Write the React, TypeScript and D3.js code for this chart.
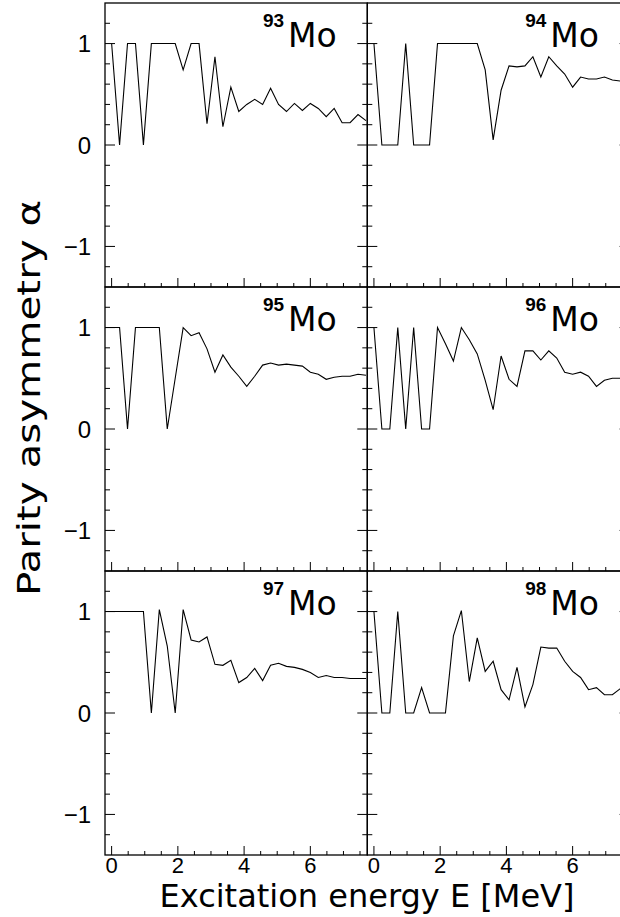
import React from "react";
import * as d3 from "d3";

// Excitation energy grid (MeV)
const energies = [
  -0.24, 0, 0.24, 0.48, 0.72, 0.96, 1.2, 1.44, 1.68, 1.92, 2.16, 2.4, 2.64, 2.88,
  3.12, 3.36, 3.6, 3.84, 4.08, 4.32, 4.56, 4.8, 5.04, 5.28, 5.52, 5.76, 6.0, 6.24,
  6.48, 6.72, 6.96, 7.2, 7.44, 7.68,
];

const nuclei = ["93", "94", "95", "96", "97", "98"];

const mo93 = [null, 1, 0, 1, 1, 0, 1, 1, 1, 1, 0.74, 1, 1, 0.21, 0.87, 0.18, 0.57, 0.33, 0.4, 0.45, 0.4, 0.56, 0.4, 0.33, 0.41, 0.34, 0.41, 0.36, 0.28, 0.36, 0.22, 0.22, 0.3, 0.24];
const mo94 = [null, 1, 0, 0, 0, 1, 0, 0, 0, 1, 1, 1, 1, 1, 1, 0.74, 0.05, 0.54, 0.78, 0.77, 0.78, 0.87, 0.67, 0.87, 0.78, 0.7, 0.57, 0.67, 0.65, 0.65, 0.67, 0.64, 0.63, 0.63];
const mo95 = [1, 1, 1, 0, 1, 1, 1, 1, 0, 0.5, 1, 0.92, 0.95, 0.79, 0.56, 0.73, 0.61, 0.52, 0.42, 0.52, 0.63, 0.65, 0.63, 0.64, 0.63, 0.62, 0.56, 0.54, 0.49, 0.51, 0.52, 0.52, 0.54, 0.53];
const mo96 = [null, 1, 0, 0, 1, 0, 1, 0, 0, 1, 0.84, 0.67, 1, 0.88, 0.74, 0.48, 0.19, 0.72, 0.49, 0.42, 0.77, 0.77, 0.68, 0.77, 0.7, 0.56, 0.54, 0.56, 0.52, 0.42, 0.48, 0.5, 0.5, 0.5];
const mo97 = [1, 1, 1, 1, 1, 1, 0, 1.02, 0.66, 0, 1.02, 0.72, 0.7, 0.75, 0.48, 0.47, 0.52, 0.3, 0.35, 0.44, 0.32, 0.47, 0.49, 0.46, 0.45, 0.43, 0.4, 0.35, 0.37, 0.35, 0.35, 0.34, 0.34, 0.34];
const mo98 = [null, 1, 0, 0, 1, 0, 0, 0.25, 0, 0, 0, 0.76, 1.01, 0.31, 0.74, 0.41, 0.51, 0.23, 0.13, 0.45, 0.06, 0.28, 0.65, 0.64, 0.64, 0.51, 0.41, 0.35, 0.23, 0.25, 0.18, 0.18, 0.24, 0.26];

const xTickLabels = ["0", "2", "4", "6"];
const xMajorTicks = [0, 2, 4, 6];
const yTickLabels = ["\u22121", "0", "1"];
const yMajorTicks = [-1, 0, 1];

const xTitle = "Excitation energy E [MeV]";
const yTitle = "Parity asymmetry \u03b1";

export default function App() {
  const W = 620;
  const H = 917;
  const left0 = 105;
  const pw = 262.3;
  const top0 = 3;
  const ph = 284;
  const series = [mo93, mo94, mo95, mo96, mo97, mo98];

  const xMinor = d3.range(0, 7.51, 0.5);
  const yMinor = d3.range(-1.2, 1.21, 0.2).map((v) => Math.round(v * 10) / 10);

  const panels = series.map((vals, k) => {
    const col = k % 2;
    const row = Math.floor(k / 2);
    const x0 = left0 + col * pw;
    const y0 = top0 + row * ph;
    const x = d3.scaleLinear().domain([-0.2, 7.72]).range([x0, x0 + pw]);
    const y = d3.scaleLinear().domain([-1.4, 1.4]).range([y0 + ph, y0]);
    const pts = energies.map((e, i) => ({ e, v: vals[i] }));
    const line = d3
      .line<{ e: number; v: number | null }>()
      .defined((d) => d.v !== null)
      .x((d) => x(d.e))
      .y((d) => y(d.v as number));
    return { k, col, row, x0, y0, x, y, path: line(pts) || "" };
  });

  return (
    <svg
      width={W}
      height={H}
      style={{ position: "absolute", left: 0, top: 0, background: "#fff" }}
    >
      <defs>
        {panels.map((p) => (
          <clipPath id={`clip${p.k}`} key={p.k}>
            <rect x={p.x0} y={p.y0} width={pw} height={ph} />
          </clipPath>
        ))}
      </defs>
      <rect x={0} y={0} width={W} height={H} fill="#fff" />
      {panels.map((p) => (
        <g key={p.k}>
          <path
            d={p.path}
            fill="none"
            stroke="#000"
            strokeWidth={1.1}
            clipPath={`url(#clip${p.k})`}
          />
          <rect
            x={p.x0}
            y={p.y0}
            width={pw}
            height={ph}
            fill="none"
            stroke="#000"
            strokeWidth={1.3}
          />
          {yMinor.map((v) => {
            const major = yMajorTicks.includes(v);
            const len = major ? 10 : 5;
            const yy = p.y(v);
            return (
              <g key={v}>
                <line x1={p.x0} x2={p.x0 + len} y1={yy} y2={yy} stroke="#000" strokeWidth={1} />
                <line x1={p.x0 + pw} x2={p.x0 + pw - len} y1={yy} y2={yy} stroke="#000" strokeWidth={1} />
              </g>
            );
          })}
          {xMinor.map((v) => {
            const major = xMajorTicks.includes(v);
            const len = major ? 9 : 4;
            const xx = p.x(v);
            return (
              <line
                key={v}
                x1={xx}
                x2={xx}
                y1={p.y0 + ph}
                y2={p.y0 + ph - len}
                stroke="#000"
                strokeWidth={1}
              />
            );
          })}
          <text
            x={p.x0 + 158}
            y={p.y0 + 24}
            fontFamily="'Liberation Sans', Arial, sans-serif"
            fontWeight="bold"
            fontSize={19}
            fill="#000"
          >
            {nuclei[p.k]}
          </text>
          <text
            x={p.x0 + 183}
            y={p.y0 + 44}
            fontFamily="'DejaVu Sans', sans-serif"
            fontSize={33}
            fill="#000"
          >
            Mo
          </text>
          {p.col === 0 &&
            yMajorTicks.map((v, i) => (
              <text
                key={v}
                x={91}
                y={p.y(v)}
                dy="0.36em"
                textAnchor="end"
                fontFamily="'Liberation Sans', Arial, sans-serif"
                fontSize={24}
                fill="#000"
              >
                {yTickLabels[i]}
              </text>
            ))}
          {p.row === 2 &&
            xMajorTicks.map((v, i) => (
              <text
                key={v}
                x={p.x(v)}
                y={873}
                textAnchor="middle"
                fontFamily="'Liberation Sans', Arial, sans-serif"
                fontSize={22}
                fill="#000"
              >
                {xTickLabels[i]}
              </text>
            ))}
        </g>
      ))}
      <text
        x={367}
        y={907}
        textAnchor="middle"
        fontFamily="'DejaVu Sans', sans-serif"
        fontSize={32}
        fill="#000"
      >
        {xTitle}
      </text>
      <text
        transform="translate(40,398) rotate(-90)"
        textAnchor="middle"
        fontFamily="'DejaVu Sans', sans-serif"
        fontSize={32}
        textLength={396}
        lengthAdjust="spacingAndGlyphs"
        fill="#000"
      >
        {yTitle}
      </text>
    </svg>
  );
}
